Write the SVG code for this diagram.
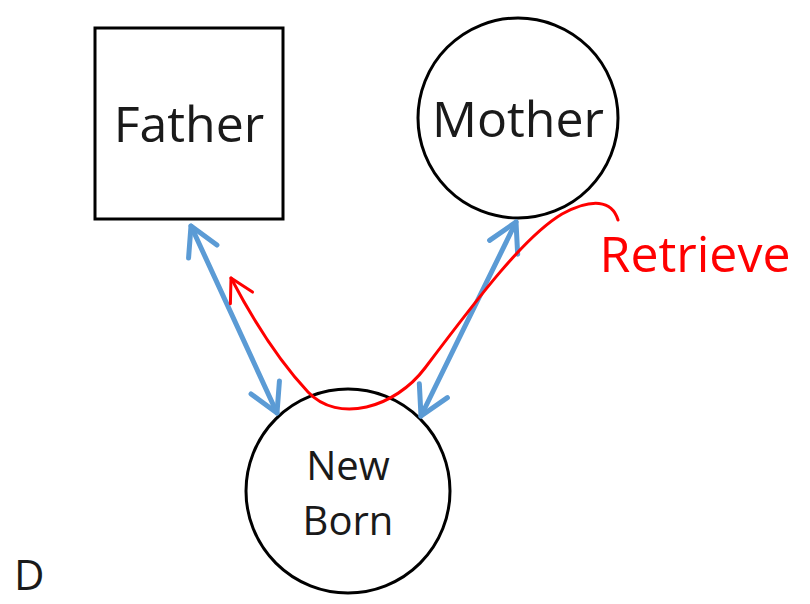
<svg xmlns="http://www.w3.org/2000/svg" width="810" height="604" viewBox="0 0 810 604">
<style>
.node{fill:#fff;stroke:#000;stroke-width:3}
.lbl{font-family:"Open Sans","Liberation Sans",sans-serif;fill:#1a1a1a;text-anchor:middle}
.blue{fill:none;stroke:#5b9bd5;stroke-width:5;stroke-linecap:round}
.red{fill:none;stroke:#ff0000;stroke-width:3;stroke-linecap:round}
</style>
<defs>
<marker id="bh" viewBox="0 0 12 12" refX="10" refY="6" markerWidth="7.5" markerHeight="7.5" markerUnits="strokeWidth" orient="auto-start-reverse">
<path d="M1,1 L10,6 L1,11" fill="none" stroke="#5b9bd5" stroke-width="1.6" stroke-linecap="round" stroke-linejoin="round"/>
</marker>
<marker id="rh" viewBox="0 0 12 12" refX="10" refY="6" markerWidth="10" markerHeight="10" markerUnits="strokeWidth" orient="auto">
<path d="M1,1 L10,6 L1,11" fill="none" stroke="#ff0000" stroke-width="1.2" stroke-linecap="round" stroke-linejoin="round"/>
</marker>
</defs>
<rect width="810" height="604" fill="#fff"/>
<g id="father">
<rect class="node" x="95" y="28" width="188" height="191"/>
<text class="lbl" x="189" y="142" font-size="50">Father</text>
</g>
<g id="mother">
<circle class="node" cx="518" cy="118" r="100"/>
<text class="lbl" x="518" y="137" font-size="50">Mother</text>
</g>
<g id="newborn">
<circle class="node" cx="348" cy="491" r="102"/>
<text class="lbl" x="348" y="480" font-size="40">New</text>
<text class="lbl" x="348" y="535" font-size="40">Born</text>
</g>
<g id="connectors">
<line class="blue" x1="191" y1="226" x2="277" y2="413" marker-start="url(#bh)" marker-end="url(#bh)"/>
<line class="blue" x1="516" y1="222" x2="421" y2="416" marker-start="url(#bh)" marker-end="url(#bh)"/>
<path class="red" d="M618,220 C612,200 592,198 562,214 C525,236 480,295 425,368 C395,408 338,424 308,392 C280,362 252,318 231,278" marker-end="url(#rh)"/>
<text x="695" y="272" font-size="50" font-family="'Open Sans','Liberation Sans',sans-serif" fill="#ff0000" text-anchor="middle">Retrieve</text>
</g>
<text x="14" y="590" font-size="42" font-family="'Open Sans','Liberation Sans',sans-serif" fill="#1a1a1a">D</text>
</svg>
